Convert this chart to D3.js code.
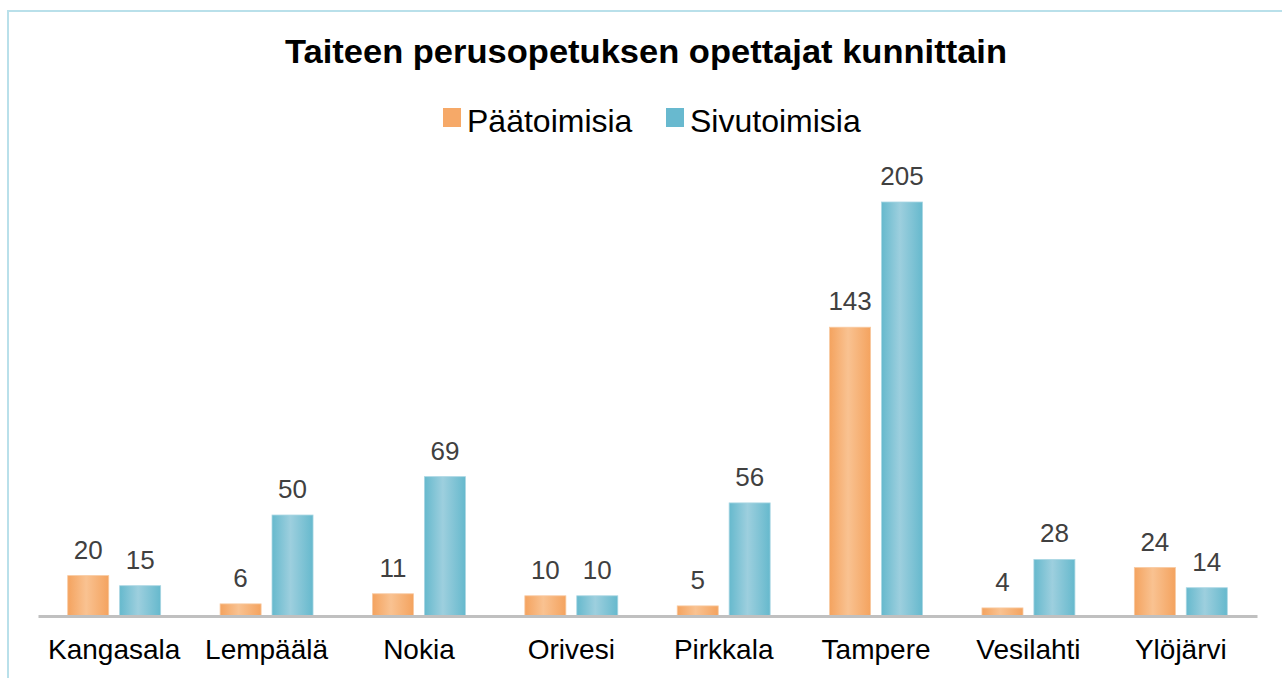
<!DOCTYPE html>
<html>
  <head>
    <meta charset="utf-8" />
    <title>Taiteen perusopetuksen opettajat kunnittain</title>
    <style>
      body,
      html {
        margin: 0;
        padding: 0;
        background: #fff;
      }
      svg {
        display: block;
        font-family: 'Liberation Sans', Arial, sans-serif;
      }
    </style>
  </head>
  <body>
    <svg id="svg" width="1282" height="678"></svg>
    <script src="https://cdn.jsdelivr.net/npm/d3@7"></script>
    <script>
      const categories = ['Kangasala', 'Lempäälä', 'Nokia', 'Orivesi', 'Pirkkala', 'Tampere', 'Vesilahti', 'Ylöjärvi'];
      const seriesNames = ['Päätoimisia', 'Sivutoimisia'];
      const paatoimisia = [20, 6, 11, 10, 5, 143, 4, 24];
      const sivutoimisia = [15, 50, 69, 10, 56, 205, 28, 14];

      const width = 1282;
      const height = 678;
      const plotLeft = 38;
      const plotRight = 1257;
      const baseline = 616;
      const plotTop = 202;

      const svg = d3.select('#svg');

      // gradients for the bars (lighter in the middle)
      const defs = svg.append('defs');
      const grads = [
        { id: 'gOrange', edge: '#f4a35f', mid: '#f9c291', stroke: '#f8c9a0' },
        { id: 'gBlue', edge: '#66b9cd', mid: '#9dcfde', stroke: '#a9d6e3' }
      ];
      grads.forEach((g) => {
        const lg = defs
          .append('linearGradient')
          .attr('id', g.id)
          .attr('x1', '0')
          .attr('x2', '1')
          .attr('y1', '0')
          .attr('y2', '0');
        lg.append('stop').attr('offset', '0%').attr('stop-color', g.edge);
        lg.append('stop').attr('offset', '45%').attr('stop-color', g.mid);
        lg.append('stop').attr('offset', '100%').attr('stop-color', g.edge);
      });

      // outer border
      svg
        .append('rect')
        .attr('x', 8)
        .attr('y', 11)
        .attr('width', width + 20)
        .attr('height', height + 20)
        .attr('fill', 'none')
        .attr('stroke', '#b9e0ea')
        .attr('stroke-width', 2);

      svg
        .append('text')
        .attr('x', 646)
        .attr('y', 63)
        .attr('text-anchor', 'middle')
        .attr('font-size', 33)
        .attr('font-weight', 'bold')
        .attr('fill', '#000')
        .attr('textLength', 722)
        .attr('lengthAdjust', 'spacingAndGlyphs')
        .text('Taiteen perusopetuksen opettajat kunnittain');

      const x0 = d3.scaleBand().domain(categories).range([plotLeft, plotRight]);
      const bw = x0.bandwidth();
      const x1 = d3
        .scaleBand()
        .domain(seriesNames)
        .range([bw * 0.195, bw * 0.805])
        .paddingInner(0.21);
      const y = d3.scaleLinear().domain([0, 205]).range([baseline, plotTop]);

      const rows = categories.map((c, i) => ({
        cat: c,
        vals: [
          { s: seriesNames[0], v: paatoimisia[i], g: grads[0] },
          { s: seriesNames[1], v: sivutoimisia[i], g: grads[1] }
        ]
      }));

      const groups = svg
        .append('g')
        .selectAll('g')
        .data(rows)
        .enter()
        .append('g')
        .attr('transform', (d) => `translate(${x0(d.cat)},0)`);

      groups
        .selectAll('rect')
        .data((d) => d.vals)
        .enter()
        .append('rect')
        .attr('x', (d) => x1(d.s))
        .attr('y', (d) => y(d.v))
        .attr('width', x1.bandwidth())
        .attr('height', (d) => baseline - y(d.v))
        .attr('fill', (d) => `url(#${d.g.id})`)
        .attr('stroke', (d) => d.g.stroke)
        .attr('stroke-width', 0.8);

      groups
        .selectAll('text')
        .data((d) => d.vals)
        .enter()
        .append('text')
        .attr('x', (d) => x1(d.s) + x1.bandwidth() / 2)
        .attr('y', (d) => y(d.v) - 17)
        .attr('text-anchor', 'middle')
        .attr('font-size', 26)
        .attr('fill', '#404040')
        .text((d) => d.v);

      // x axis
      const xAxis = svg
        .append('g')
        .attr('transform', `translate(0,${baseline})`)
        .call(d3.axisBottom(x0).tickSize(0).tickPadding(23));
      xAxis.select('.domain').attr('stroke', '#c0c0c0').attr('stroke-width', 3);
      xAxis
        .selectAll('text')
        .attr('font-size', 28)
        .attr('font-family', "'Liberation Sans', Arial, sans-serif")
        .attr('fill', '#000');

      // legend
      const legend = svg.append('g');
      const legendX = [443, 666];
      seriesNames.forEach((s, i) => {
        legend
          .append('rect')
          .attr('x', legendX[i])
          .attr('y', 108)
          .attr('width', 18)
          .attr('height', 19)
          .attr('fill', i === 0 ? '#f6a968' : '#68b9cf');
        legend
          .append('text')
          .attr('x', legendX[i] + 24)
          .attr('y', 132)
          .attr('font-size', 32)
          .attr('fill', '#000')
          .text(s);
      });
    </script>
  </body>
</html>
